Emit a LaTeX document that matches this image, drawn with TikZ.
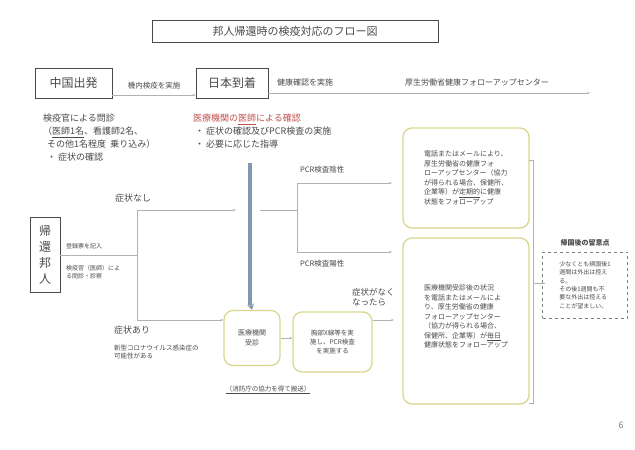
\documentclass[tikz,border=0pt]{standalone}
\usepackage{fontspec}
\setmainfont{Noto Sans CJK JP}
\usetikzlibrary{arrows.meta}
\definecolor{tx}{HTML}{4A4A4A}
\definecolor{yb}{HTML}{D8D68A}
\definecolor{bar}{HTML}{8497B0}
\definecolor{rd}{HTML}{C0504D}
\tikzset{x=1pt,y=-1pt,
 every node/.style={text=tx,inner sep=0pt},
 hbox/.style={draw=tx,line width=0.8pt,font=\fontsize{12}{14}\selectfont,align=center},
 rbox/.style={draw=yb,line width=1.2pt,rounded corners=9pt,align=left,font=\fontsize{7}{9.5}\selectfont},
 ln/.style={draw=gray!60,line width=0.5pt},
 ar/.style={ln,-{Stealth[length=3pt]}},
 lbl/.style={font=\fontsize{8}{10}\selectfont,anchor=west,align=left},
 sm/.style={font=\fontsize{6}{8}\selectfont,anchor=west,align=left}}
\begin{document}
\begin{tikzpicture}
\useasboundingbox (0,0) rectangle (635,450);
\fill[white] (0,0) rectangle (635,450);
\node[draw=tx,line width=0.7pt,minimum width=286pt,minimum height=22pt,font=\fontsize{11}{13}\selectfont] (title) at (295,31) {邦人帰還時の検疫対応のフロー図};
\node[hbox,minimum width=77pt,minimum height=30pt] (cn) at (73.5,83) {中国出発};
\node[hbox,minimum width=72pt,minimum height=30pt] (jp) at (232,83) {日本到着};
\coordinate (e1) at (590,93);
\draw[ar] (cn.east|-0,95) -- (jp.west|-0,95) node[pos=0.5,above=6pt,font=\fontsize{7.5}{9}\selectfont]{機内検疫を実施};
\draw[ar] (jp.east|-0,93) -- (e1);
\node[lbl] (l1) at (277,82) {健康確認を実施};
\node[lbl] (l2) at (405,82) {厚生労働省健康フォローアップセンター};
\node[lbl,anchor=north west,font=\fontsize{9}{13}\selectfont] (t1) at (43,114) {検疫官による問診\\（\underline{医師1名}、看護師2名、\\\ \ その他1名程度\ \ 乗り込み）\\\ \ ・ 症状の確認};
\node[lbl,anchor=north west,font=\fontsize{9}{13}\selectfont] (t2) at (193,114) {\textcolor{rd}{医療機関の\underline{医師}による確認}\\\ ・ 症状の確認及びPCR検査の実施\\\ ・ 必要に応じた指導};
\node[draw=tx,line width=0.8pt,minimum width=30pt,minimum height=75pt,font=\fontsize{12}{16}\selectfont,align=center] (kk) at (45,255) {帰\\還\\邦\\人};
\node[rbox,align=center,minimum width=56pt,minimum height=55pt] (iry) at (252,338) {医療機関\\受診};
\node[rbox,align=center,minimum width=79pt,minimum height=60pt,font=\fontsize{6.5}{9}\selectfont] (xr) at (332.5,342) {胸部X線等を実\\施し、PCR検査\\を実施する};
\node[rbox,minimum width=126pt,minimum height=100pt] (bA) at (466,178) {電話またはメールにより、\\厚生労働省の健康フォ\\ローアップセンター（協力\\が得られる場合、保健所、\\企業等）が\underline{定期的}に健康\\状態をフォローアップ};
\node[rbox,minimum width=126pt,minimum height=166pt] (bB) at (466,321) {医療機関受診後の状況\\を電話またはメールによ\\り、厚生労働省の健康\\フォローアップセンター\\（協力が得られる場合、\\保健所、企業等）が\underline{毎日}\\健康状態をフォローアップ\\\ };
\fill[bar] (247.5,163) rectangle (251.5,305);
\draw[bar,line width=1pt,-{Stealth[length=6pt,width=7pt]}] (249.5,300) -- (iry.north);
% left branch
\coordinate (j1) at (137,255);
\coordinate (jt) at (137,210);
\coordinate (jb) at (137,320);
\draw[ln] (kk.east|-j1) -- (j1);
\draw[ln] (jt) -- (jb);
\draw[ar] (jt) -- (236,210);
\draw[ar] (jb) -- (iry.west|-jb);
\node[lbl,font=\fontsize{9}{11}\selectfont] (sn) at (115,198) {症状なし};
\node[sm] (tr) at (66,246) {登録票を記入};
\node[sm] (ms) at (66,272) {検疫官（医師）によ\\る問診・診察};
\node[lbl,font=\fontsize{9}{11}\selectfont] (sa) at (114,330) {症状あり};
\node[sm,font=\fontsize{6.5}{8.5}\selectfont] (kn) at (114,352) {新型コロナウイルス感染症の\\可能性がある};
% right branch
\coordinate (r1) at (260,210);
\coordinate (r2) at (297,210);
\coordinate (r2a) at (297,183);
\coordinate (r3) at (297,252);
\draw[ln] (r1) -- (r2);
\draw[ln] (r2a) -- (r3);
\draw[ar] (r2a) -- (392,183);
\draw[ar] (r3) -- (392,252);
\node[lbl,font=\fontsize{7.5}{9}\selectfont] (pn) at (300,170) {PCR検査陰性};
\node[lbl,font=\fontsize{7.5}{9}\selectfont] (pp) at (300,264) {PCR検査陽性};
\draw[ar] (iry.east|-0,338) -- (xr.west|-0,338);
\draw[ar] (xr.east|-0,320) -- (394,320);
\node[lbl,font=\fontsize{8.5}{10.5}\selectfont] (nk) at (352,297) {症状がなく\\なったら};
\node[font=\fontsize{6.5}{8}\selectfont,align=center] (cap) at (268,390) {\underline{\itshape（消防庁の協力を得て搬送）}};
% bracket
\coordinate (b1) at (533,160);
\coordinate (b2) at (533,403);
\coordinate (b3) at (545,283);
\draw[ln,line width=0.8pt] (529,160) -- (b1) -- (b2) -- (529,403);
\draw[ln] (533,283) -- (b3);
\node[font=\fontsize{7}{9}\selectfont\bfseries] (rt) at (585,243) {帰国後の留意点};
\node[draw=gray,dashed,line width=0.6pt,minimum width=85pt,minimum height=66pt,align=left,font=\fontsize{6}{8.3}\selectfont,inner sep=3pt] (nb) at (585,285) {少なくとも帰国後1\\週間は外出は控え\\る。\\その後1週間も不\\要な外出は控える\\ことが望ましい。};
\node[text=gray,font=\fontsize{9}{10}\selectfont] (pg) at (621,425) {6};
\end{tikzpicture}
\end{document}
